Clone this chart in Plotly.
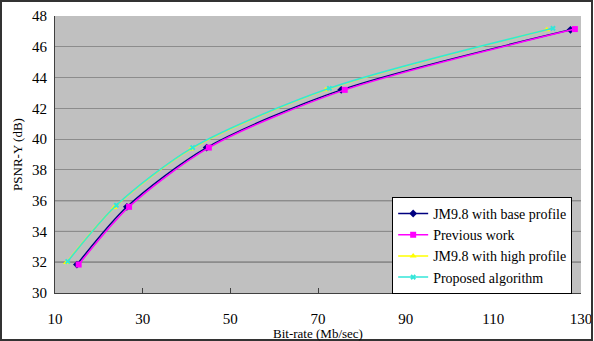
import plotly.graph_objects as go

base_x = [15.0, 26.4, 44.6, 75.3, 127.6]
base_y = [31.85, 35.6, 39.45, 43.2, 47.1]
prev_x = [15.4, 26.9, 45.1, 76.1, 128.6]
prev_y = [31.85, 35.6, 39.45, 43.2, 47.15]
high_x = [12.6, 23.5, 41.0, 71.8, 122.2]
high_y = [31.98, 35.55, 39.35, 43.2, 47.1]
prop_x = [12.9, 24.0, 41.4, 72.6, 123.6]
prop_y = [32.05, 35.7, 39.45, 43.3, 47.2]

names = ["JM9.8 with base profile", "Previous work", "JM9.8 with high profile", "Proposed algorithm"]
colors = ["#000080", "#FF00FF", "#FFFF00", "#33E6D9"]
symbols = ["diamond", "square", "triangle-up", "x"]
xs = [base_x, prev_x, high_x, prop_x]
ys = [base_y, prev_y, high_y, prop_y]

fig = go.Figure()
for i in range(4):
    fig.add_trace(go.Scatter(
        x=xs[i], y=ys[i], name=names[i], mode="lines+markers",
        line=dict(color=colors[i], width=1.5, shape="spline", smoothing=0.8),
        marker=dict(color=colors[i], symbol=symbols[i], size=6 if i != 3 else 5,
                    line=dict(width=0)),
    ))

font = "Liberation Serif"
fig.update_layout(
    width=594, height=341,
    margin=dict(l=55, r=13, t=16, b=48),
    paper_bgcolor="white", plot_bgcolor="#C0C0C0",
    font=dict(family=font, size=14, color="black"),
    showlegend=True,
    legend=dict(x=0.641, y=0.347, xanchor="left", yanchor="top",
                bgcolor="white", bordercolor="black", borderwidth=1,
                font=dict(family=font, size=14), traceorder="normal",
                tracegroupgap=0, itemwidth=30),
    xaxis=dict(range=[10, 130], tickvals=[10, 30, 50, 70, 90, 110, 130],
               showgrid=False, zeroline=False, showline=True, linecolor="#404040",
               linewidth=1, ticks="inside", ticklen=5, tickcolor="#404040",
               ticklabelstandoff=12, automargin=False,
               title=dict(text="Bit-rate (Mb/sec)", font=dict(family=font, size=13), standoff=0),
               tickfont=dict(family=font, size=15)),
    yaxis=dict(range=[30, 48], dtick=2, showgrid=True, gridcolor="#8C8C8C",
               gridwidth=1, zeroline=False, showline=True, linecolor="#404040",
               linewidth=1, ticks="", ticklabelstandoff=4, automargin=False,
               title=dict(text="PSNR-Y (dB)", font=dict(family=font, size=13), standoff=6),
               tickfont=dict(family=font, size=15)),
)

dark_grid = [32, 34, 36]
for v in dark_grid:
    fig.add_shape(type="line", xref="paper", yref="y", x0=0, x1=1, y0=v, y1=v,
                  line=dict(color="#303030", width=1), layer="below")

fig.add_shape(type="rect", xref="paper", yref="paper",
              x0=(1 - 55) / 526, x1=(592 - 55) / 526,
              y0=(293 - 340) / 277, y1=(293 - 1) / 277,
              line=dict(color="#333333", width=2), fillcolor="rgba(0,0,0,0)")

fig.write_html("out.html")
